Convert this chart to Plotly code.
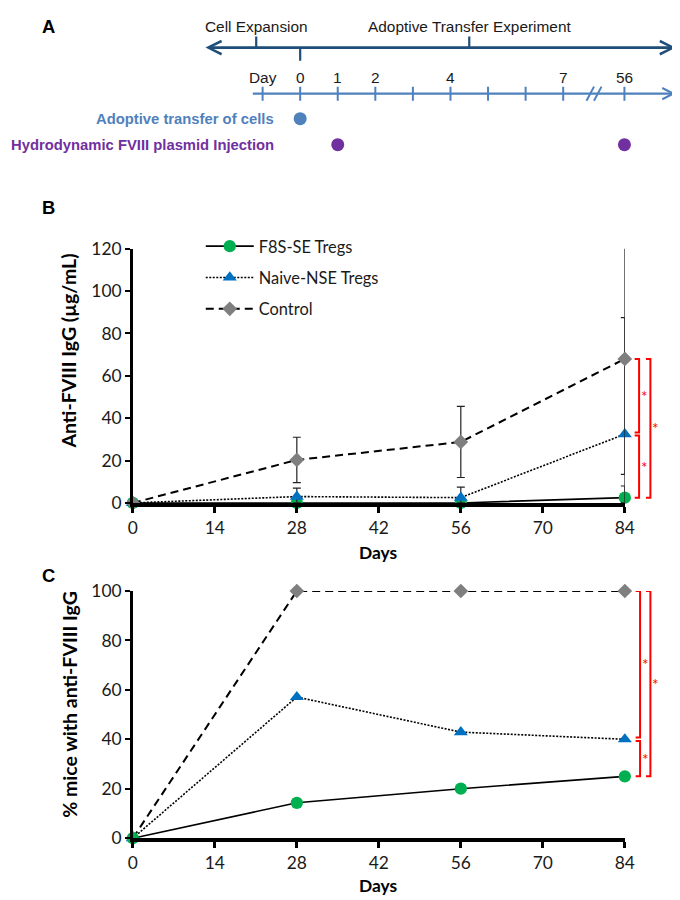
import plotly.graph_objects as go

W, H = 680, 900

# ---- data -------------------------------------------------------------
days = [0, 28, 56, 84]

# panel B: anti-FVIII IgG (ug/mL), mean +/- SD
igg_f8s = [0, 0, 0, 2.5]
igg_f8s_err = [0, 0, 0, 5.5]
igg_naive = [0, 3, 2.5, 32.5]
igg_naive_err = [0, 4, 5, 55]
igg_control = [0, 20.3, 28.8, 68]
igg_control_err = [0, 10.7, 16.8, 54.5]

# panel C: % mice with anti-FVIII IgG
pct_f8s = [0, 14.3, 20, 25]
pct_naive = [0, 57.1, 42.9, 40]
pct_control = [0, 100, 100, 100]

x_ticks = [0, 14, 28, 42, 56, 70, 84]
igg_ticks = [0, 20, 40, 60, 80, 100, 120]
pct_ticks = [0, 20, 40, 60, 80, 100]

# panel A: timeline
timeline_ticks = ["Day", "0", "1", "2", "3", "4", "5", "6", "7", "56"]
timeline_labels = ["Day", "0", "1", "2", "", "4", "", "", "7", "56"]
phases = ["Cell Expansion", "Adoptive Transfer Experiment"]
transfer_days = ["0"]
plasmid_days = ["1", "56"]

# ---- layout helpers ---------------------------------------------------
# the captured page comes out slightly shrunk and offset; target positions
# below are in picture pixels and get mapped back to figure pixels here
K, OX, OY = 0.976, 12.4, 19.4


def fx(px):
    return (px - OX) / K / W


def fy(py):
    return 1 - (py - OY) / K / H


def fs(size):
    return round(size / K, 1)


FONT = "Lato, Open Sans, sans-serif"
ARIAL = "Liberation Sans, Arial, sans-serif"
GREEN, BLUE, GREY = "#00B050", "#0070C0", "#7F7F7F"
NAVY, STEEL, PURPLE = "#1F4E79", "#4F81BD", "#7030A0"
RED = "#FF0000"

series = [
    dict(name="F8S-SE Tregs", color=GREEN, symbol="circle", dash="solid", lw=1.6, size=12),
    dict(name="Naive-NSE Tregs", color=BLUE, symbol="triangle-up", dash="2px,1.5px", lw=1.6, size=12),
    dict(name="Control", color=GREY, symbol="diamond", dash="8px,5px", lw=2, size=11),
]

fig = go.Figure()

# ---- panel B ----------------------------------------------------------
igg = [(igg_f8s, igg_f8s_err), (igg_naive, igg_naive_err), (igg_control, igg_control_err)]
for s, (vals, err) in zip(series, igg):
    # error bars cannot go below the axis
    err_minus = [min(e, v) for e, v in zip(err, vals)]
    fig.add_trace(go.Scatter(
        x=days, y=vals, name=s["name"], mode="lines+markers",
        line=dict(color="black", width=s["lw"], dash=s["dash"]),
        marker=dict(symbol=s["symbol"], color=s["color"], size=fs(s["size"])),
        error_y=dict(type="data", array=err, arrayminus=err_minus, color="#222222",
                     thickness=1.2, width=4),
        cliponaxis=False, legendgroup=s["name"], xaxis="x", yaxis="y",
    ))

# ---- panel C ----------------------------------------------------------
pct = [pct_f8s, pct_naive, pct_control]
for s, vals in reversed(list(zip(series, pct))):
    fig.add_trace(go.Scatter(
        x=days, y=vals, name=s["name"], mode="lines+markers",
        line=dict(color="black", width=s["lw"], dash=s["dash"]),
        marker=dict(symbol=s["symbol"], color=s["color"], size=fs(s["size"])),
        cliponaxis=False, showlegend=False, xaxis="x2", yaxis="y2",
    ))


def add_bracket(yref, top, bottom, xpos, tab):
    fig.add_shape(type="path", xref="x domain", yref=yref,
                  path=f"M {xpos - tab},{top} H {xpos} V {bottom} H {xpos - tab}",
                  line=dict(color=RED, width=2))
    fig.add_annotation(x=xpos + 0.011, y=(top + bottom) / 2, xref="x domain", yref=yref,
                       text="*", showarrow=False, font=dict(color=RED, size=fs(15), family=FONT),
                       xanchor="center", yanchor="middle")


gap = 0.7
add_bracket("y", igg_control[-1], igg_naive[-1] + gap, 1.029, 0.009)
add_bracket("y", igg_naive[-1] - gap, igg_f8s[-1], 1.029, 0.009)
add_bracket("y", igg_control[-1], igg_f8s[-1], 1.052, 0.009)
add_bracket("y2", pct_control[-1], pct_naive[-1] + gap, 1.031, 0.009)
add_bracket("y2", pct_naive[-1] - gap, pct_f8s[-1], 1.031, 0.009)
add_bracket("y2", pct_control[-1], pct_f8s[-1], 1.052, 0.009)

# ---- panel A: timeline ------------------------------------------------
slot = {t: i for i, t in enumerate(timeline_ticks)}
slot["56"] = 9.63
brk = 8.82
phase_pos = [-0.17, 5.5]
ROW_PHASE, ROW_ARROW, ROW_LAB, ROW_AXIS, ROW_T, ROW_P = 27, 48, 78, 94, 119, 145
SLOT0, SLOTW = (261.5 - OX) / K, 37.5 / K  # figure px of the "Day" tick, px per slot

# upper double arrow with phase braces
fig.add_annotation(x=11.0, y=ROW_ARROW, ax=-1.56, ay=ROW_ARROW, xref="x3", yref="y3",
                   axref="x3", ayref="y3", text="", showarrow=True, arrowside="end+start",
                   arrowhead=5, startarrowhead=5, arrowwidth=2.6, arrowsize=1, startarrowsize=1,
                   arrowcolor=NAVY)
for name, p in zip(phases, phase_pos):
    fig.add_shape(type="line", xref="x3", yref="y3", x0=p, x1=p, y0=ROW_ARROW - 11, y1=ROW_ARROW,
                  line=dict(color=NAVY, width=2.2))
    fig.add_annotation(x=p, y=ROW_PHASE, xref="x3", yref="y3", text=name, showarrow=False,
                       font=dict(family=ARIAL, size=fs(15), color="#1a1a1a"))
fig.add_shape(type="line", xref="x3", yref="y3", x0=slot["0"], x1=slot["0"], y0=ROW_ARROW,
              y1=ROW_ARROW + 13, line=dict(color=NAVY, width=2.2))

# lower day axis
fig.add_annotation(x=11.0, y=ROW_AXIS, ax=-0.3, ay=ROW_AXIS, xref="x3", yref="y3",
                   axref="x3", ayref="y3", text="", showarrow=True, arrowhead=5,
                   arrowwidth=2.2, arrowsize=1, arrowcolor=STEEL)
for t, lab in zip(timeline_ticks, timeline_labels):
    fig.add_shape(type="line", xref="x3", yref="y3", x0=slot[t], x1=slot[t],
                  y0=ROW_AXIS - 7, y1=ROW_AXIS + 7, line=dict(color=STEEL, width=2))
    if lab:
        fig.add_annotation(x=slot[t], y=ROW_LAB, xref="x3", yref="y3", text=lab,
                           showarrow=False, font=dict(family=ARIAL, size=fs(15), color="#1a1a1a"))
for off in (-0.1, 0.1):
    fig.add_shape(type="line", xref="x3", yref="y3", x0=brk + off - 0.1, x1=brk + off + 0.1,
                  y0=ROW_AXIS + 7, y1=ROW_AXIS - 7, line=dict(color=STEEL, width=2))

fig.add_trace(go.Scatter(x=[slot[d] for d in transfer_days], y=[ROW_T] * len(transfer_days),
                         mode="markers", marker=dict(color=STEEL, size=13), showlegend=False,
                         xaxis="x3", yaxis="y3", hoverinfo="skip"))
fig.add_trace(go.Scatter(x=[slot[d] for d in plasmid_days], y=[ROW_P] * len(plasmid_days),
                         mode="markers", marker=dict(color=PURPLE, size=13), showlegend=False,
                         xaxis="x3", yaxis="y3", hoverinfo="skip"))
fig.add_annotation(x=0.36, y=ROW_T, xref="x3", yref="y3", text="<b>Adoptive transfer of cells</b>",
                   showarrow=False, xanchor="right", font=dict(family=ARIAL, size=14.8, color=STEEL))
fig.add_annotation(x=0.36, y=ROW_P, xref="x3", yref="y3",
                   text="<b>Hydrodynamic FVIII plasmid Injection</b>", showarrow=False,
                   xanchor="right", font=dict(family=ARIAL, size=14.8, color=PURPLE))

# ---- panel letters and axis titles ------------------------------------
for letter, ypx in (("A", 27), ("B", 208), ("C", 576)):
    fig.add_annotation(x=fx(48), y=fy(ypx), xref="paper", yref="paper", text=f"<b>{letter}</b>",
                       xanchor="center", yanchor="middle", showarrow=False,
                       font=dict(family=ARIAL, size=fs(18), color="black"))
for ypx in (553, 885):
    fig.add_annotation(x=0.5, y=fy(ypx), xref="x domain", yref="paper", text="<b>Days</b>",
                       xanchor="center", yanchor="middle", showarrow=False,
                       font=dict(family=FONT, size=fs(17), color="black"))
fig.add_annotation(x=fx(68), y=fy(351), xref="paper", yref="paper", textangle=-90,
                   text="<b>Anti-FVIII IgG (µg/mL)</b>", showarrow=False, xanchor="center",
                   yanchor="middle", font=dict(family=FONT, size=fs(19), color="black"))
fig.add_annotation(x=fx(68), y=fy(704), xref="paper", yref="paper", textangle=-90,
                   text="<b>% mice with anti-FVIII IgG</b>", showarrow=False, xanchor="center",
                   yanchor="middle", font=dict(family=FONT, size=fs(19), color="black"))

# ---- axes -------------------------------------------------------------
xdom = [fx(132), fx(623)]
xcommon = dict(range=[0, 84], tickvals=x_ticks, showline=True, linewidth=3.5, linecolor="black",
               ticks="outside", ticklen=6, tickwidth=2.5, tickcolor="black", showgrid=False,
               zeroline=False, tickfont=dict(family=FONT, size=fs(17), color="#1a1a1a"))
ycommon = dict(showline=True, linewidth=2.5, linecolor="black", ticks="outside", ticklen=5,
               tickwidth=2, tickcolor="black", showgrid=False, zeroline=False,
               tickfont=dict(family=FONT, size=fs(17), color="#1a1a1a"))

fig.update_layout(
    width=W, height=H, margin=dict(l=0, r=0, t=0, b=0),
    paper_bgcolor="white", plot_bgcolor="white",
    xaxis=dict(domain=xdom, anchor="y", **xcommon),
    yaxis=dict(domain=[fy(503), fy(249)], anchor="x", range=[0, 120], tickvals=igg_ticks,
               **ycommon),
    xaxis2=dict(domain=xdom, anchor="y2", **xcommon),
    yaxis2=dict(domain=[fy(838), fy(591)], anchor="x2", range=[0, 100], tickvals=pct_ticks,
                **ycommon),
    xaxis3=dict(domain=[0, 1], anchor="y3", range=[-SLOT0 / SLOTW, (W - SLOT0) / SLOTW],
                visible=False),
    yaxis3=dict(domain=[1 - 180 / H, 1], anchor="x3", range=[OY + K * 180, OY], visible=False),
    legend=dict(x=192 / W, y=1 - 215 / H, xanchor="left", yanchor="top", traceorder="grouped",
                tracegroupgap=7, itemwidth=48, bgcolor="rgba(0,0,0,0)",
                font=dict(family=FONT, size=fs(16), color="#1a1a1a")),
    showlegend=True,
)

fig.write_html("out.html")
